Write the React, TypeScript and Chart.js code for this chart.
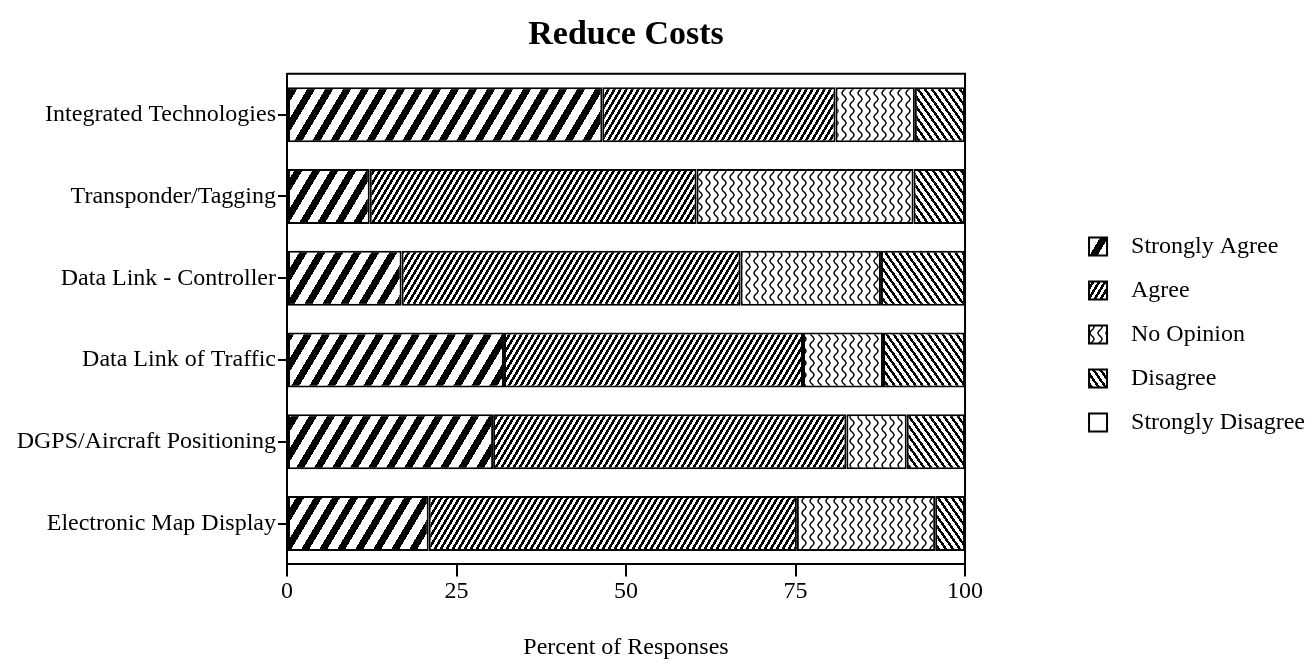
import React, { useEffect, useRef } from 'react';
import { Chart, registerables } from 'chart.js';

Chart.register(...registerables);

const categories = [
  'Integrated Technologies',
  'Transponder/Tagging',
  'Data Link - Controller',
  'Data Link of Traffic',
  'DGPS/Aircraft Positioning',
  'Electronic Map Display',
];
const seriesNames = ['Strongly Agree', 'Agree', 'No Opinion', 'Disagree', 'Strongly Disagree'];
const stronglyAgree = [46.5, 12.2, 16.9, 32.0, 30.4, 20.9];
const agree = [34.4, 48.2, 50.0, 44.1, 52.1, 54.3];
const noOpinion = [11.7, 32.0, 20.7, 11.8, 8.9, 20.4];
const disagree = [7.4, 7.6, 12.4, 12.1, 8.6, 4.4];
const stronglyDisagree = [0, 0, 0, 0, 0, 0];
const xTickStep = 25;
const xMin = 0;
const xMax = 100;
const chartTitle = 'Reduce Costs';
const xAxisTitle = 'Percent of Responses';

const FAMILY = "'Liberation Serif', 'Times New Roman', Times, serif";

function stripePattern(P: number, H: number, k: number, black: number, dir: number): CanvasPattern {
  const c = document.createElement('canvas');
  c.width = P;
  c.height = H;
  const ctx = c.getContext('2d')!;
  const img = ctx.createImageData(P, H);
  for (let y = 0; y < H; y++) {
    for (let x = 0; x < P; x++) {
      let u = dir > 0 ? x + k * y : x - k * y;
      u = ((u % P) + P) % P;
      const on = u < black;
      const idx = (y * P + x) * 4;
      const v = on ? 0 : 255;
      img.data[idx] = v;
      img.data[idx + 1] = v;
      img.data[idx + 2] = v;
      img.data[idx + 3] = 255;
    }
  }
  ctx.putImageData(img, 0, 0);
  return ctx.createPattern(c, 'repeat')!;
}

function wavyPattern(): CanvasPattern {
  const W = 8;
  const H = 12;
  const c = document.createElement('canvas');
  c.width = W;
  c.height = H;
  const ctx = c.getContext('2d')!;
  ctx.fillStyle = '#fff';
  ctx.fillRect(0, 0, W, H);
  ctx.strokeStyle = '#000';
  ctx.lineWidth = 1.4;
  ctx.beginPath();
  for (let y = -1; y <= H + 1; y += 0.5) {
    const x = 4 + 2 * Math.sin((2 * Math.PI * y) / H);
    if (y === -1) ctx.moveTo(x, y);
    else ctx.lineTo(x, y);
  }
  ctx.stroke();
  return ctx.createPattern(c, 'repeat')!;
}

const framePlugin = {
  id: 'frame',
  afterDatasetsDraw(chart: any) {
    const { ctx, chartArea } = chart;
    ctx.save();
    ctx.strokeStyle = '#000';
    ctx.lineWidth = 2;
    ctx.beginPath();
    ctx.moveTo(chartArea.left, chartArea.top);
    ctx.lineTo(chartArea.right, chartArea.top);
    ctx.lineTo(chartArea.right, chartArea.bottom);
    ctx.stroke();
    ctx.restore();
  },
};

export default function App() {
  const ref = useRef<HTMLCanvasElement | null>(null);

  useEffect(() => {
    if (!ref.current) return;
    Chart.defaults.font.family = FAMILY;
    Chart.defaults.color = '#000';

    const fills: any[] = [
      stripePattern(18, 30, 0.6, 8, 1),
      stripePattern(6, 10, 0.6, 3, 1),
      wavyPattern(),
      stripePattern(7, 10, 0.7, 3, -1),
      '#ffffff',
    ];
    const values = [stronglyAgree, agree, noOpinion, disagree, stronglyDisagree];

    const chart = new Chart(ref.current, {
      type: 'bar',
      data: {
        labels: categories,
        datasets: values.map((d, i) => ({
          label: seriesNames[i],
          data: d,
          backgroundColor: fills[i],
          borderColor: '#000',
          borderWidth: 2,
          borderSkipped: false,
          inflateAmount: 0,
          barPercentage: 0.672,
          categoryPercentage: 1,
        })),
      },
      options: {
        indexAxis: 'y',
        responsive: false,
        animation: false,
        devicePixelRatio: 1,
        layout: { padding: { left: 0, right: 1, top: 0, bottom: 0 } },
        scales: {
          x: {
            type: 'linear',
            stacked: true,
            min: xMin,
            max: xMax,
            position: 'bottom',
            ticks: { stepSize: xTickStep, font: { size: 24, family: FAMILY }, color: '#000', padding: 1 },
            grid: { drawOnChartArea: false, drawTicks: true, tickLength: 12, color: '#000', lineWidth: 2 },
            border: { display: true, color: '#000', width: 2 },
            title: {
              display: true,
              text: xAxisTitle,
              font: { size: 24, family: FAMILY },
              color: '#000',
              padding: { top: 26, bottom: 7 },
            },
          },
          y: {
            type: 'category',
            stacked: true,
            offset: true,
            ticks: { font: { size: 24, family: FAMILY }, color: '#000', padding: 2 },
            grid: { drawOnChartArea: false, drawTicks: true, tickLength: 9, color: '#000', lineWidth: 2, offset: false },
            border: { display: true, color: '#000', width: 2 },
            afterFit: (s: any) => {
              s.width = 287;
            },
          },
          y2: {
            type: 'linear',
            position: 'right',
            display: true,
            ticks: { display: false },
            grid: { display: false, drawTicks: false },
            border: { display: false },
            afterFit: (s: any) => {
              s.width = 104;
            },
          },
        },
        plugins: {
          title: {
            display: true,
            text: chartTitle,
            fullSize: false,
            font: { size: 34, weight: 'bold', family: FAMILY },
            color: '#000',
            padding: { top: 15, bottom: 18 },
          },
          legend: {
            display: true,
            position: 'right',
            align: 'center',
            maxWidth: 400,
            labels: {
              font: { size: 24, family: FAMILY },
              color: '#000',
              boxWidth: 18,
              boxHeight: 18,
              padding: 20,
              generateLabels: (c: any) => {
                const items = Chart.defaults.plugins.legend.labels.generateLabels(c);
                return items.map((it: any) => ({ ...it, text: '  ' + it.text, lineWidth: 2, strokeStyle: '#000' }));
              },
            },
          },
          tooltip: { enabled: false },
        },
      },
      plugins: [framePlugin],
    });

    return () => chart.destroy();
  }, []);

  return (
    <div style={{ position: 'fixed', left: 0, top: 0, width: 1316, height: 669, background: '#fff' }}>
      <canvas ref={ref} width={1316} height={669} style={{ width: 1316, height: 669, display: 'block' }} />
    </div>
  );
}
